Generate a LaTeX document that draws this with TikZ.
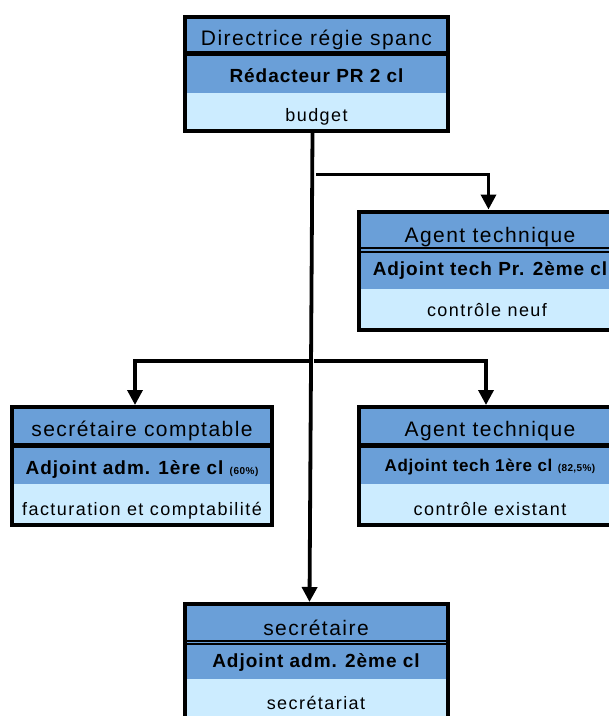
\documentclass[tikz,border=0pt]{standalone}
\usepackage{fontspec}
\setmainfont{Liberation Sans}
\newfontfamily\orgfont[LetterSpace=8]{Liberation Sans}
\newfontfamily\ttlfont[LetterSpace=7]{Liberation Sans}
\newfontfamily\bldfont[LetterSpace=5]{Liberation Sans}
\newfontfamily\bldsmfont[LetterSpace=4]{Liberation Sans}
\usetikzlibrary{arrows.meta,calc}
\definecolor{hdrblue}{HTML}{6A9FD8}
\definecolor{lightblue}{HTML}{CCECFF}
\tikzset{
  ttl/.style={anchor=base, inner sep=0pt, font=\ttlfont\fontsize{21}{25}\selectfont},
  bld/.style={anchor=base, inner sep=0pt, font=\bldfont\bfseries\fontsize{19}{23}\selectfont},
  bldsm/.style={anchor=base, inner sep=0pt, font=\bldsmfont\bfseries\fontsize{17}{20}\selectfont},
  pln/.style={anchor=base, inner sep=0pt, font=\orgfont\fontsize{18}{22}\selectfont},
  frame/.style={draw, line width=4pt, inner sep=0pt, rectangle},
  conn/.style={line width=3.5pt},
  mainconn/.style={line width=3.8pt},
  arr/.style={-{Triangle[length=15pt,width=15pt]}},
}
% name, x1, x2, top, s1, s2, bottom, double(1)/single(0)
\newcommand\orgrows[8]{%
  \fill[hdrblue] (#2,#4) rectangle (#3,#6);
  \fill[lightblue] (#2,#6) rectangle (#3,#7);
  \ifnum#8=1
    \draw[line width=2pt] (#2,#5-2) -- (#3,#5-2);
    \draw[line width=2pt] (#2,#5+1.5) -- (#3,#5+1.5);
  \else
    \draw[line width=4.5pt] (#2,#5) -- (#3,#5);
  \fi
  \node[frame, minimum width={#3-#2}, minimum height={#7-#4}] (#1) at ({(#2+#3)/2},{(#4+#7)/2}) {};
}
\newcommand\smallpart[1]{{\fontsize{10}{12}\selectfont#1}}
\begin{document}
\begin{tikzpicture}[x=1pt,y=-1pt]
\useasboundingbox (0,0) rectangle (609,716);
\clip (0,0) rectangle (609,716);

% boxes
\orgrows{top}{185}{448}{17}{53.5}{93}{131}{0}
\orgrows{tr}{359}{621}{211.5}{250}{289}{330}{1}
\orgrows{ml}{12}{272}{407}{445.5}{484}{524.5}{0}
\orgrows{mr}{359}{621}{407}{445.5}{484}{524.5}{0}
\orgrows{bot}{185}{448}{604}{642.5}{679}{719}{1}

% texts
\node[ttl] (top-a) at (316.5,45) {Directrice régie spanc};
\node[bld] (top-b) at (316.5,82) {Rédacteur PR 2 cl};
\node[pln] (top-c) at (316.5,121) {budget};

\node[ttl] (tr-a) at (490,242.5) {Agent technique};
\node[bld] (tr-b) at (490,275) {Adjoint tech Pr. 2ème cl};
\node[pln] (tr-c) at (487,316.5) {contrôle neuf};

\node[ttl] (ml-a) at (142,436.7) {secrétaire comptable};
\node[bld] (ml-b) at (142,474) {Adjoint adm. 1ère cl \smallpart{(60\%)}};
\node[pln] (ml-c) at (142,515) {facturation et comptabilité};

\node[ttl] (mr-a) at (490,436.7) {Agent technique};
\node[bldsm] (mr-b) at (490,471) {Adjoint tech 1ère cl \smallpart{(82,5\%)}};
\node[pln] (mr-c) at (490,515) {contrôle existant};

\node[ttl] (bot-a) at (316,635) {secrétaire};
\node[bld] (bot-b) at (316,667.3) {Adjoint adm. 2ème cl};
\node[pln] (bot-c) at (316,709) {secrétariat};

% connectors
\draw[mainconn,arr] ($(top.south)+(-4,0)$) -- ($(bot.north)+(-7,0)$);
\coordinate (jr) at (316,174.5);
\coordinate (jl) at (311,361);
\coordinate (jm) at (314,361);
\draw[conn,arr] (jr) -| ($(tr.north)+(-1.5,0)$);
\draw[conn,arr] (jl) -| ($(ml.north)+(-7,0)$);
\draw[conn,arr] (jm) -| ($(mr.north)+(-4,0)$);
\end{tikzpicture}
\end{document}
